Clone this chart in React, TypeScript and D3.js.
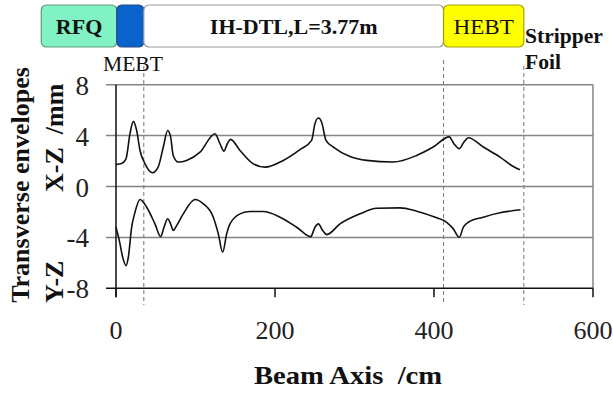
import React, { useEffect, useRef } from 'react';
import * as d3 from 'd3';

// beam axis positions (cm) and envelope sizes (mm)
const xzPos = [0, 7, 12.6, 17.6, 21.8, 26, 30.2, 36.5, 46, 53, 59.5, 65, 68.7, 72, 78.4, 88.8, 105.7, 124.5, 130.8, 135.8, 140, 144.2, 156, 172.7, 187.4, 210.4, 231.4, 246, 250.3, 254.5, 258.6, 264.2, 273.4, 294.3, 315.3, 348.8, 378.2, 399, 419.2, 425, 431.8, 437.7, 443.1, 462, 483, 499.8, 508];
const xzVal = [1.73, 1.8, 2.18, 4.15, 5.12, 4.4, 2.83, 1.78, 1.08, 1.52, 3.1, 4.4, 3.9, 2.44, 1.92, 2.05, 2.7, 4.15, 3.36, 2.78, 3.36, 3.7, 2.83, 1.78, 1.52, 2.05, 2.9, 3.62, 4.94, 5.38, 5.07, 3.62, 3.1, 2.36, 2.05, 1.92, 2.44, 3.1, 3.9, 3.36, 2.97, 3.5, 3.83, 3.1, 2.31, 1.57, 1.31];

const yzPos = [0, 4.2, 8.4, 12.6, 15.5, 19.7, 23.9, 30.2, 38.6, 49, 56.2, 60.4, 65, 68.7, 72, 76.3, 84.6, 99.4, 109.8, 122.4, 128.7, 134.2, 139.2, 143.4, 156, 168.6, 185.3, 206.3, 227.3, 244.9, 250.3, 254.5, 260, 265, 281.8, 307, 328, 357.2, 378.2, 403.4, 416, 424.3, 431.8, 436.9, 443.1, 462, 483, 508.9];
const yzVal = [-3.2, -4.25, -5.56, -6.22, -5.56, -3.2, -2.02, -1.02, -1.63, -2.94, -3.94, -3.2, -2.54, -2.94, -3.46, -3.07, -2.15, -1.02, -1.36, -2.41, -3.72, -5.17, -3.72, -2.94, -2.15, -1.97, -1.97, -2.41, -3.2, -3.94, -3.2, -2.94, -3.46, -3.78, -2.94, -2.15, -1.71, -1.68, -1.94, -2.46, -2.81, -3.33, -3.99, -3.2, -2.81, -2.41, -2.07, -1.83];

const xTicks = [0, 200, 400, 600];
const yTicks = [8, 4, 0, -4, -8];

// section boundaries along the beam axis (cm)
const sectionNames = ['RFQ', 'MEBT', 'IH-DTL,L=3.77m', 'HEBT'];
const sectionStart = [-94, 1, 35, 412];
const sectionEnd = [1, 35, 412, 513];
const sectionColors = ['#80f2c4', '#0a62cc', '#ffffff', '#ffff00'];
const sectionStroke = ['#5f9a84', '#214c86', '#999999', '#a3a300'];
const boundaries = [35, 412, 513];

const SERIF = '"Liberation Serif", "Times New Roman", serif';

const App = () => {
  const svgRef = useRef(null);

  useEffect(() => {
    const width = 613;
    const height = 394;
    const svg = d3.select(svgRef.current)
      .attr('width', width)
      .attr('height', height);

    svg.selectAll('*').remove();

    const x = d3.scaleLinear().domain([0, 600]).range([116, 593]);
    const y = d3.scaleLinear().domain([-8, 8]).range([288.3, 84.7]);

    const label = (sel, size, bold) => sel
      .attr('font-family', SERIF)
      .attr('font-size', size)
      .attr('font-weight', bold ? 'bold' : 'normal')
      .attr('fill', '#111');

    svg.append('rect').attr('width', width).attr('height', height).attr('fill', '#fff');

    // section boxes on top
    const boxes = svg.append('g');
    sectionNames.forEach((name, i) => {
      boxes.append('rect')
        .attr('x', x(sectionStart[i])).attr('y', 5)
        .attr('width', x(sectionEnd[i]) - x(sectionStart[i])).attr('height', 42)
        .attr('rx', 5)
        .attr('fill', sectionColors[i]).attr('stroke', sectionStroke[i]).attr('stroke-width', 1.2);
      if (name === 'MEBT') return;
      const cx = (x(sectionStart[i]) + x(sectionEnd[i])) / 2;
      boxes.append('text')
        .attr('transform', `translate(${cx},34) scale(1.1,1)`)
        .attr('text-anchor', 'middle')
        .call(label, name === 'HEBT' ? 21 : 20, name !== 'HEBT')
        .text(name);
    });

    svg.append('text').attr('transform', 'translate(103,71) scale(1.08,1)').call(label, 20, false).text('MEBT');
    svg.append('text').attr('transform', 'translate(525,43) scale(1.08,1)').call(label, 20, true).text('Stripper');
    svg.append('text').attr('transform', 'translate(525,69) scale(1.08,1)').call(label, 20, true).text('Foil');

    // grid lines (with short outer ticks on the left)
    svg.append('g')
      .selectAll('line')
      .data(yTicks.filter(d => d !== -8))
      .join('line')
      .attr('x1', 106).attr('x2', x(600))
      .attr('y1', d => y(d)).attr('y2', d => y(d))
      .attr('stroke', '#858585').attr('stroke-width', 1.5);

    // right border
    svg.append('line')
      .attr('x1', x(600)).attr('x2', x(600)).attr('y1', y(8)).attr('y2', y(-8))
      .attr('stroke', '#858585').attr('stroke-width', 1.5);

    // section boundaries
    svg.append('g')
      .selectAll('line')
      .data(boundaries)
      .join('line')
      .attr('x1', d => x(d)).attr('x2', d => x(d))
      .attr('y1', (d, i) => [66, 60, 66][i]).attr('y2', 305)
      .attr('stroke', '#777').attr('stroke-width', 1)
      .attr('stroke-dasharray', '4,3');

    // axes
    svg.append('line')
      .attr('x1', 106).attr('x2', x(600)).attr('y1', y(-8)).attr('y2', y(-8))
      .attr('stroke', '#111').attr('stroke-width', 1.5);
    svg.append('line')
      .attr('x1', x(0)).attr('x2', x(0)).attr('y1', y(8)).attr('y2', y(-8) + 9)
      .attr('stroke', '#111').attr('stroke-width', 1.5);
    svg.append('g')
      .selectAll('line')
      .data(xTicks)
      .join('line')
      .attr('x1', d => x(d)).attr('x2', d => x(d))
      .attr('y1', y(-8)).attr('y2', y(-8) + 9)
      .attr('stroke', '#111').attr('stroke-width', 1.5);

    svg.append('g')
      .selectAll('text')
      .data(xTicks)
      .join('text')
      .attr('x', d => x(d)).attr('y', 339)
      .attr('text-anchor', 'middle')
      .call(label, 26, false)
      .attr('fill', '#222')
      .text(d => d);

    svg.append('g')
      .selectAll('text')
      .data(yTicks)
      .join('text')
      .attr('x', 89).attr('y', d => y(d) + 10)
      .attr('text-anchor', 'end')
      .call(label, 27, false)
      .attr('fill', '#222')
      .text(d => d);

    // axis titles
    svg.append('text')
      .attr('transform', 'translate(348,384) scale(1.1,1)')
      .attr('text-anchor', 'middle')
      .call(label, 26, true)
      .attr('xml:space', 'preserve')
      .text('Beam Axis  /cm');

    svg.append('text')
      .attr('transform', 'translate(29,185) rotate(-90)')
      .attr('text-anchor', 'middle')
      .call(label, 26, true)
      .text('Transverse envelopes');
    svg.append('text')
      .attr('transform', 'translate(63,192) rotate(-90)')
      .call(label, 26, true)
      .attr('xml:space', 'preserve')
      .text('X-Z  /mm');
    svg.append('text')
      .attr('transform', 'translate(63,303) rotate(-90)')
      .call(label, 26, true)
      .text('Y-Z');

    // envelopes
    const line = d3.line()
      .x(d => x(d[0]))
      .y(d => y(d[1]))
      .curve(d3.curveMonotoneX);

    const xz = xzPos.map((p, i) => [p, xzVal[i]]);
    const yz = yzPos.map((p, i) => [p, yzVal[i]]);

    svg.append('g')
      .attr('fill', 'none')
      .attr('stroke', '#111')
      .attr('stroke-width', 1.6)
      .selectAll('path')
      .data([xz, yz])
      .join('path')
      .attr('d', line);
  }, []);

  return (
    <div style={{ position: 'absolute', left: 0, top: 0 }}>
      <svg ref={svgRef}></svg>
    </div>
  );
};

export default App;
